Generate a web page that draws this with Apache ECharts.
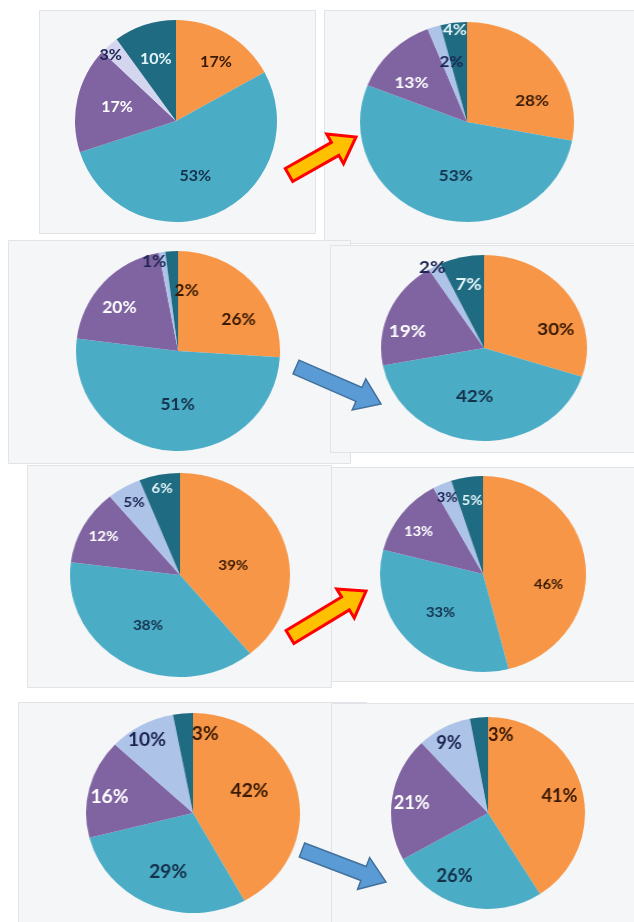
<!DOCTYPE html>
<html>
<head>
<meta charset="utf-8">
<script src="https://cdn.jsdelivr.net/npm/echarts@6/dist/echarts.min.js"></script>
<style>
  html, body { margin: 0; padding: 0; background: #fff; }
  #stage { position: relative; width: 634px; height: 922px; overflow: hidden; }
  #bg { position: absolute; left: 0; top: 0; width: 634px; height: 922px; }
  .pie { position: absolute; transform-origin: 50% 50%; }
</style>
</head>
<body>
<div id="stage"><div id="bg"></div></div>
<script>
// slice order, clockwise from 12 o'clock
const categories = ['Orange', 'Teal', 'Purple', 'Light', 'Dark'];

// values (percent)
const pieBefore1 = [17, 53, 17, 3, 10];
const pieAfter1 = [28, 53, 13, 2, 4];
const pieBefore2 = [26, 51, 20, 1, 2];
const pieAfter2 = [30, 42, 19, 2, 7];
const pieBefore3 = [39, 38, 12, 5, 6];
const pieAfter3 = [46, 33, 13, 3, 5];
const pieBefore4 = [42, 29, 16, 10, 3];
const pieAfter4 = [41, 26, 21, 9, 3];

const sliceColors = ['#f79646', '#4bacc6', '#8064a2', '#aec3e8', '#1f6b82'];
const labelColors = ['#3b1a04', '#14304a', '#ffffff', '#1b2452', '#e2f4f8'];
const brown = '#3b1a04';

// where each screenshot sits on the page
const panels = [
  { values: pieBefore1, box: [39, 10, 276, 223], cx: 176, cy: 121, rx: 101, ry: 101, font: 16, light: '#d3d6ee' },
  { values: pieAfter1, box: [324, 10, 310, 233], cx: 467, cy: 122, rx: 107, ry: 100, font: 16 },
  { values: pieBefore2, box: [8, 240, 342, 223], cx: 178, cy: 351, rx: 102, ry: 100, font: 17, darkInk: brown },
  { values: pieAfter2, box: [330, 245, 304, 207], cx: 484, cy: 348, rx: 103, ry: 93, font: 17 },
  { values: pieBefore3, box: [27, 465, 304, 222], cx: 180, cy: 575, rx: 110, ry: 102, font: 14 },
  { values: pieAfter3, box: [331, 467, 303, 214], cx: 483, cy: 574, rx: 103, ry: 98, font: 14 },
  { values: pieBefore4, box: [18, 702, 348, 220], cx: 193, cy: 813, rx: 107, ry: 100, font: 18, darkInk: brown },
  { values: pieAfter4, box: [331, 703, 303, 219], cx: 488, cy: 813, rx: 97, ry: 96, font: 18, darkInk: brown }
];

// label shifts (px) so the labels land where Excel put them
const labelNudge = [
  [[5, 0], [-8, -8], [8, 1], [-20, -15], [1, 3]],
  [[9, 22], [9, -11], [-4, 9], [7, 5], [-3, -25]],
  [[10, 15], [6, -14], [-8, 3], [-13, -22], [13, 7]],
  [[15, 19], [-5, -15], [-12, 9], [-18, -25], [0, -2]],
  [[-17, 14], [4, -10], [-11, -5], [-8, -13], [-4, -18]],
  [[-4, 19], [7, -9], [-9, -2], [-8, -15], [0, -8]],
  [[-14, -5], [4, -3], [-13, 1], [-11, -13], [19, -11]],
  [[8, 1], [-17, 0], [-11, 0], [-9, -12], [19, -13]]
];

// arrows between the panels: tail, tip, style
const arrows = [
  { from: [289, 175], to: [356, 137], fill: '#ffc000', stroke: '#ff0000', width: 3 },
  { from: [296, 367], to: [381, 404], fill: '#5b9bd5', stroke: '#41719c', width: 1.5 },
  { from: [290, 637], to: [366, 591], fill: '#ffc000', stroke: '#ff0000', width: 3 },
  { from: [302, 850], to: [386, 882], fill: '#5b9bd5', stroke: '#41719c', width: 1.5 }
];

function arrowPoints(t, h, sw, hw, hl) {
  const dx = h[0] - t[0], dy = h[1] - t[1];
  const len = Math.hypot(dx, dy);
  const ux = dx / len, uy = dy / len, nx = -uy, ny = ux;
  const b = [h[0] - ux * hl, h[1] - uy * hl];
  return [
    [t[0] + nx * sw / 2, t[1] + ny * sw / 2],
    [b[0] + nx * sw / 2, b[1] + ny * sw / 2],
    [b[0] + nx * hw / 2, b[1] + ny * hw / 2],
    h,
    [b[0] - nx * hw / 2, b[1] - ny * hw / 2],
    [b[0] - nx * sw / 2, b[1] - ny * sw / 2],
    [t[0] - nx * sw / 2, t[1] - ny * sw / 2]
  ];
}

// background: gray panels + arrows
const bgChart = echarts.init(document.getElementById('bg'), null, { renderer: 'canvas' });
const graphics = [];
panels.forEach(function (p) {
  graphics.push({
    type: 'rect',
    shape: { x: p.box[0] + 0.5, y: p.box[1] + 0.5, width: p.box[2], height: p.box[3] },
    style: { fill: '#f5f6f8', stroke: '#e2e3e7', lineWidth: 1 },
    silent: true
  });
});
arrows.forEach(function (a) {
  graphics.push({
    type: 'polygon',
    z: 10,
    shape: { points: arrowPoints(a.from, a.to, 15, 34, 24) },
    style: { fill: a.fill, stroke: a.stroke, lineWidth: a.width, lineJoin: 'miter' },
    silent: true
  });
});
bgChart.setOption({ animation: false, graphic: graphics });

// one small chart per pie so it can be stretched into the ellipse of the screenshot
const stage = document.getElementById('stage');
panels.forEach(function (p, k) {
  const size = 2 * p.ry + 4;
  const sx = p.rx / p.ry;
  const el = document.createElement('div');
  el.className = 'pie';
  el.style.left = (p.cx - size / 2) + 'px';
  el.style.top = (p.cy - size / 2) + 'px';
  el.style.width = size + 'px';
  el.style.height = size + 'px';
  el.style.transform = 'scaleX(' + sx.toFixed(4) + ')';
  stage.appendChild(el);

  const colors = sliceColors.slice();
  if (p.light) colors[3] = p.light;
  const inks = labelColors.slice();
  if (p.darkInk) inks[4] = p.darkInk;

  const data = categories.map(function (name, i) {
    return { name: name, value: p.values[i] };
  });

  const chart = echarts.init(el, null, { renderer: 'canvas' });
  chart.setOption({
    animation: false,
    color: colors,
    series: [
      {
        type: 'pie',
        radius: p.ry,
        center: ['50%', '50%'],
        startAngle: 90,
        clockwise: true,
        label: { show: false },
        labelLine: { show: false },
        itemStyle: { borderWidth: 0 },
        silent: true,
        data: data
      },
      {
        // transparent ring only used to place the labels further out, like Excel does
        type: 'pie',
        radius: [p.ry * 0.3, p.ry],
        center: ['50%', '50%'],
        startAngle: 90,
        clockwise: true,
        silent: true,
        avoidLabelOverlap: false,
        labelLayout: { hideOverlap: false },
        itemStyle: { color: 'rgba(0,0,0,0)' },
        labelLine: { show: false },
        label: {
          show: true,
          position: 'inside',
          fontFamily: 'Lato',
          fontWeight: 'bold',
          fontSize: p.font,
          formatter: function (params) { return params.value + '%'; }
        },
        data: data.map(function (d, i) {
          const n = labelNudge[k][i];
          return {
            name: d.name,
            value: d.value,
            label: { color: inks[i], offset: [n[0] / sx, n[1]] }
          };
        })
      }
    ]
  });
});
</script>
</body>
</html>
